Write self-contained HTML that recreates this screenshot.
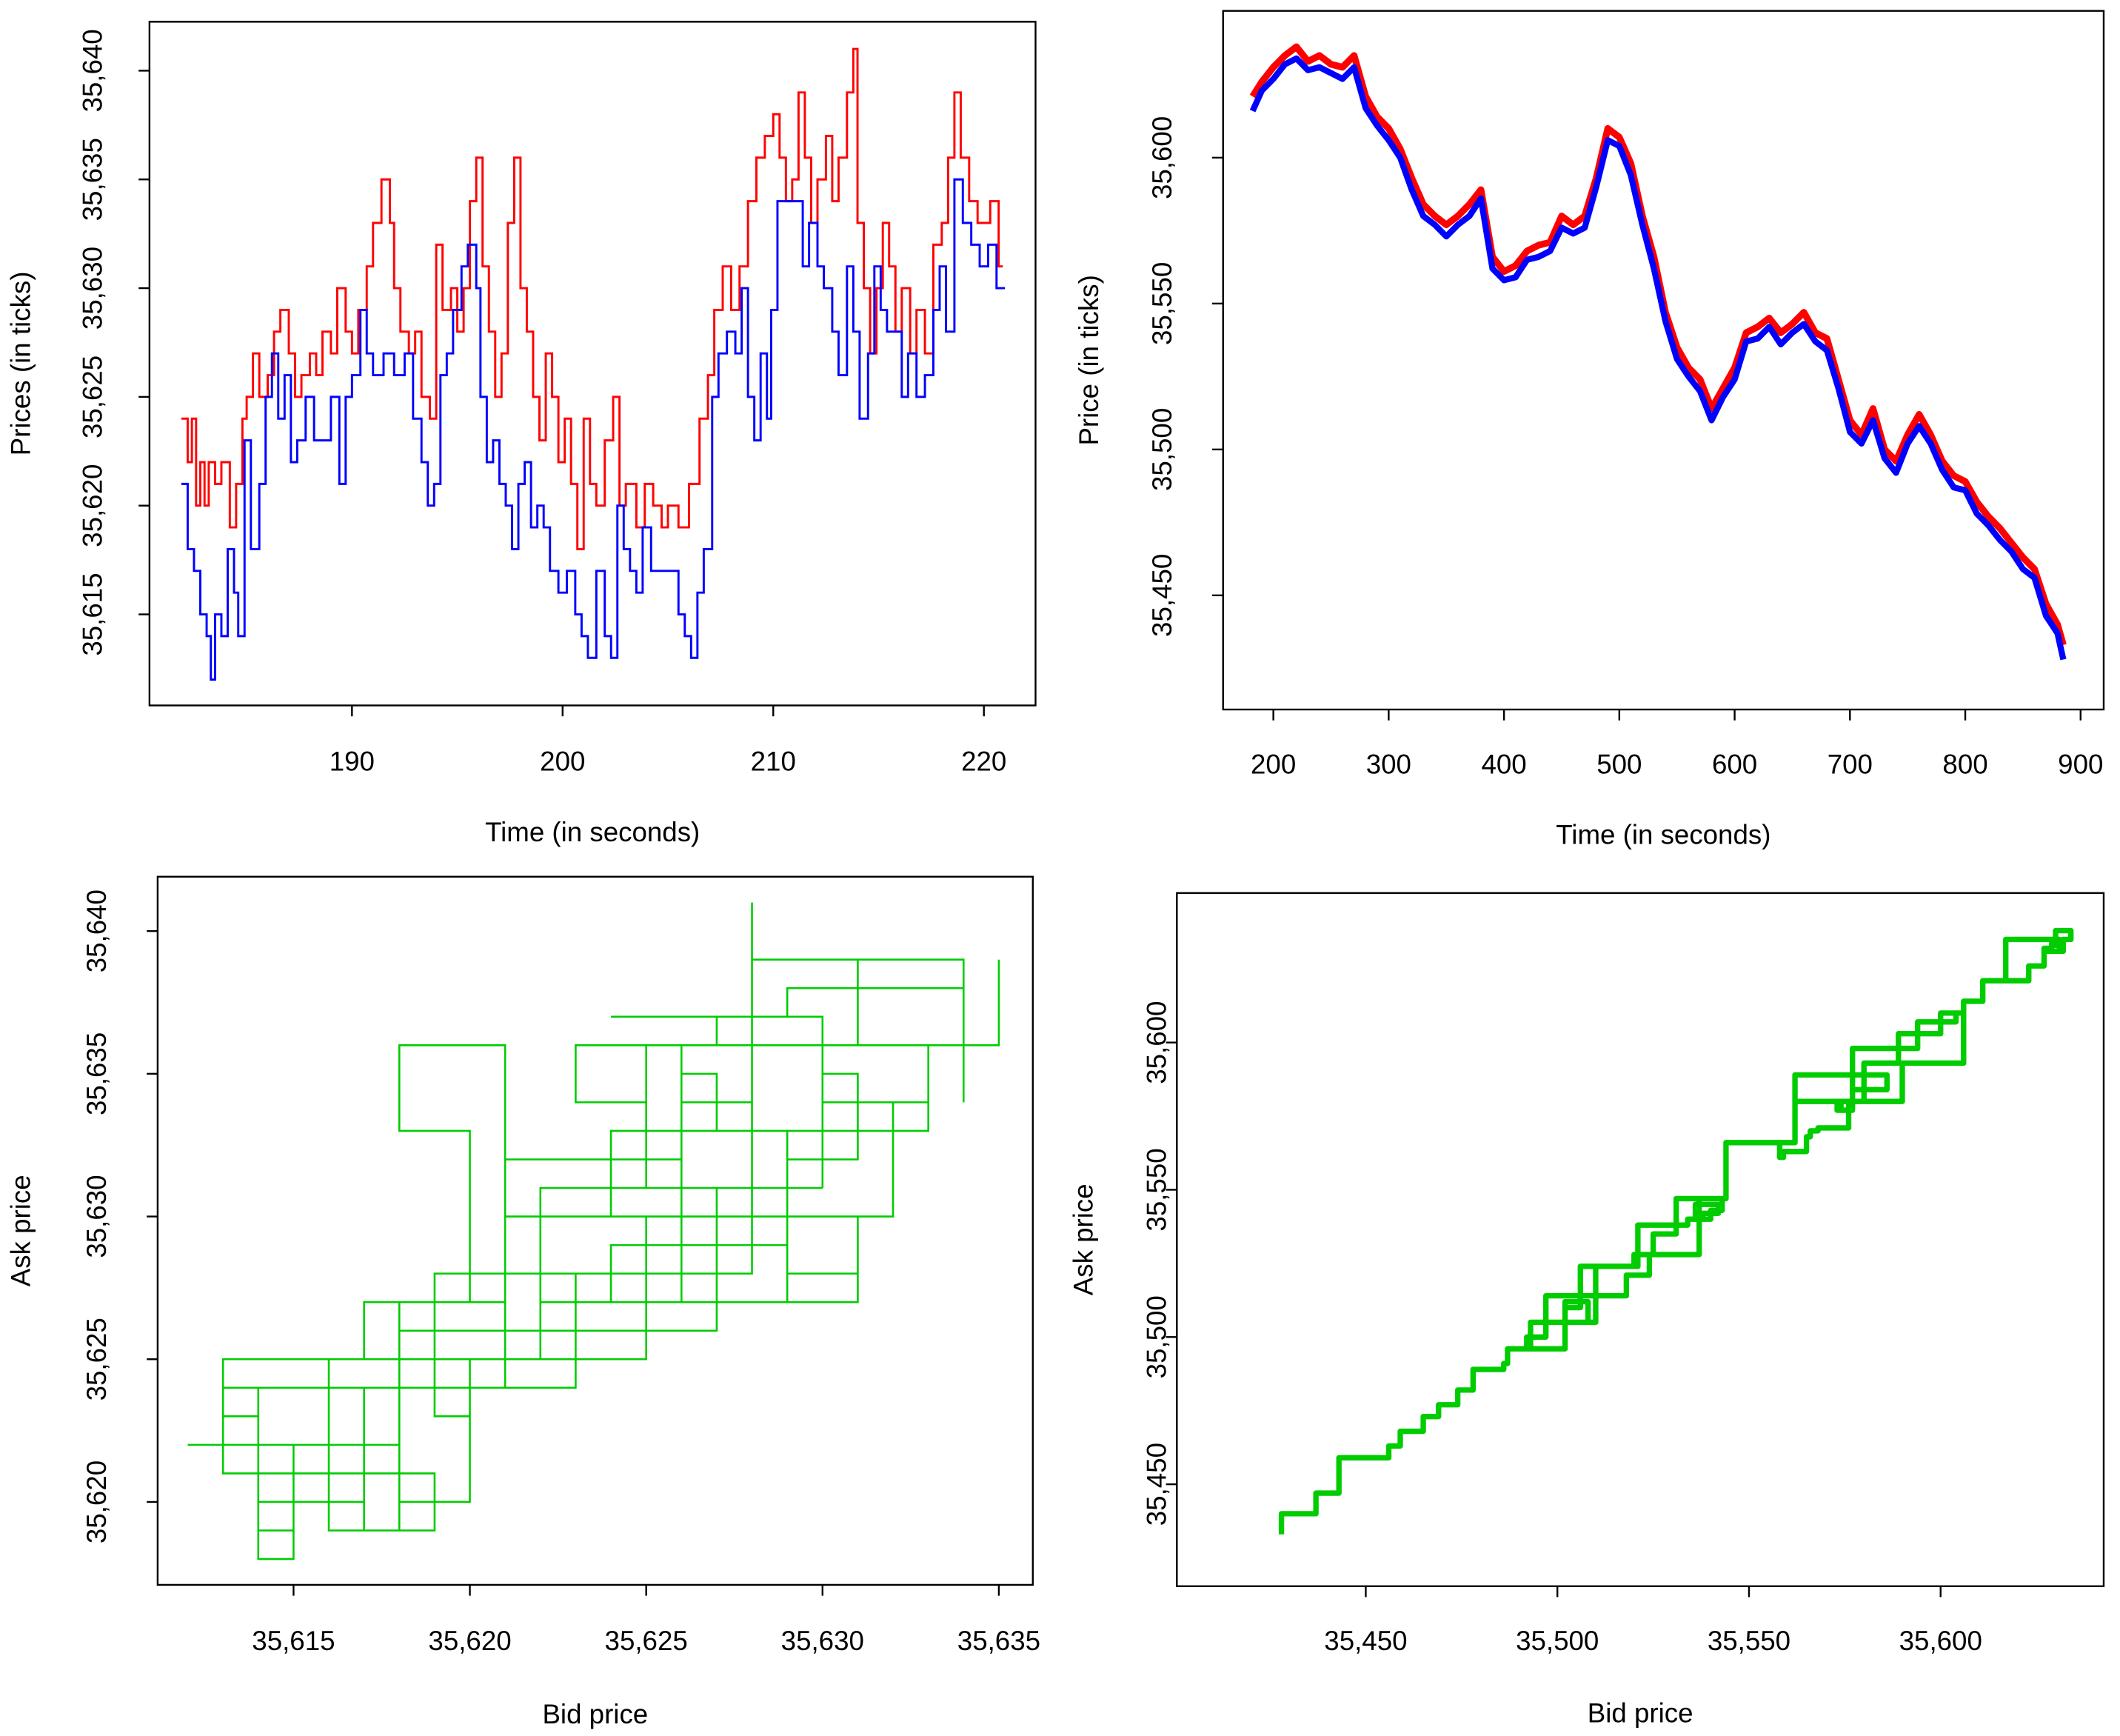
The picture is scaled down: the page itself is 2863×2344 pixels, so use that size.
<!DOCTYPE html>
<html><head><meta charset="utf-8"><style>
html,body{margin:0;padding:0;background:#fff}
svg{display:block}
text{font-family:"Liberation Sans",Arial,sans-serif;fill:#000}
</style></head><body>
<svg id="root" xmlns="http://www.w3.org/2000/svg" width="2863" height="2344" viewBox="0 0 1560 1277.2" preserveAspectRatio="none"></svg>
<script>
// Panel 1 (zoomed time series) data
const p1AskTimes=[181.9,182.2,182.4,182.6,182.8,183.0,183.2,183.5,183.8,184.2,184.5,184.8,185.0,185.3,185.6,186.0,186.3,186.6,187.0,187.3,187.6,188.0,188.3,188.6,189.0,189.3,189.7,190.0,190.3,190.7,191.0,191.4,191.8,192.0,192.3,192.7,193.0,193.3,193.7,194.0,194.3,194.7,195.0,195.3,195.6,195.9,196.2,196.5,196.8,197.1,197.4,197.7,198.0,198.3,198.6,198.9,199.2,199.5,199.8,200.1,200.4,200.7,201.0,201.3,201.6,202.0,202.4,202.7,203.0,203.5,203.9,204.3,204.7,205.0,205.5,206.0,206.5,206.9,207.2,207.6,208.0,208.4,208.8,209.2,209.6,210.0,210.3,210.6,210.9,211.2,211.5,211.8,212.1,212.5,212.8,213.1,213.5,213.8,214.0,214.3,214.6,214.9,215.2,215.5,215.8,216.1,216.5,216.8,217.2,217.6,218.0,218.3,218.6,218.9,219.3,219.7,220.3,220.7,220.9];
const p1Ask=[35624,35622,35624,35620,35622,35620,35622,35621,35622,35619,35621,35624,35625,35627,35625,35626,35628,35629,35627,35625,35626,35627,35626,35628,35627,35630,35628,35627,35629,35631,35633,35635,35633,35630,35628,35627,35628,35625,35624,35632,35629,35630,35628,35630,35634,35636,35631,35628,35625,35627,35633,35636,35630,35628,35625,35623,35627,35625,35622,35624,35621,35618,35624,35621,35620,35623,35625,35620,35621,35619,35621,35620,35619,35620,35619,35621,35624,35626,35629,35631,35629,35631,35634,35636,35637,35638,35636,35634,35635,35639,35636,35633,35635,35637,35634,35636,35639,35641,35633,35630,35627,35630,35633,35631,35628,35630,35627,35629,35627,35632,35633,35636,35639,35636,35634,35633,35634,35631,35631];
const p1BidTimes=[181.9,182.2,182.5,182.8,183.1,183.3,183.5,183.8,184.1,184.4,184.6,184.9,185.2,185.6,185.9,186.2,186.5,186.8,187.1,187.4,187.8,188.2,188.6,189.0,189.4,189.7,190.0,190.4,190.7,191.0,191.5,192.0,192.5,192.9,193.3,193.6,193.9,194.2,194.5,194.8,195.2,195.5,195.9,196.1,196.4,196.7,197.0,197.3,197.6,197.9,198.2,198.5,198.8,199.1,199.4,199.8,200.2,200.6,200.9,201.2,201.6,202.0,202.3,202.6,202.9,203.2,203.5,203.8,204.2,204.6,205.0,205.5,205.8,206.1,206.4,206.7,207.1,207.4,207.8,208.2,208.5,208.8,209.1,209.4,209.7,209.9,210.2,210.5,210.9,211.4,211.7,212.1,212.4,212.8,213.1,213.5,213.8,214.1,214.5,214.8,215.1,215.4,215.8,216.1,216.4,216.8,217.2,217.6,217.9,218.2,218.6,219.0,219.4,219.8,220.2,220.6,221.0];
const p1Bid=[35621,35618,35617,35615,35614,35612,35615,35614,35618,35616,35614,35623,35618,35621,35625,35627,35624,35626,35622,35623,35625,35623,35623,35625,35621,35625,35626,35629,35627,35626,35627,35626,35627,35624,35622,35620,35621,35626,35627,35629,35631,35632,35630,35625,35622,35623,35621,35620,35618,35621,35622,35619,35620,35619,35617,35616,35617,35615,35614,35613,35617,35614,35613,35620,35618,35617,35616,35619,35617,35617,35617,35615,35614,35613,35616,35618,35625,35627,35628,35627,35630,35625,35623,35627,35624,35629,35634,35634,35634,35631,35633,35631,35630,35628,35626,35631,35628,35624,35627,35631,35629,35628,35628,35625,35627,35625,35626,35629,35631,35628,35635,35633,35632,35631,35632,35630,35630];
// Panel 2 (full session) data
const p2Times=[182,190,200,210,220,230,240,250,260,270,280,290,300,310,320,330,340,350,360,370,380,390,400,410,420,430,440,450,460,470,480,490,500,510,520,530,540,550,560,570,580,590,600,610,620,630,640,650,660,670,680,690,700,710,720,730,740,750,760,770,780,790,800,810,820,830,840,850,860,870,880,885];
const p2Ask=[35621,35626,35631,35635,35638,35633,35635,35632,35631,35635,35621,35614,35610,35603,35593,35584,35580,35577,35580,35584,35589,35566,35561,35563,35568,35570,35571,35580,35577,35580,35593,35610,35607,35598,35580,35566,35547,35535,35528,35524,35514,35521,35528,35540,35542,35545,35540,35543,35547,35540,35538,35524,35510,35505,35514,35500,35496,35505,35512,35505,35496,35491,35489,35482,35477,35473,35468,35463,35459,35447,35440,35433];
const p2Bid=[35616,35623,35627,35632,35634,35630,35631,35629,35627,35631,35617,35611,35606,35600,35589,35580,35577,35573,35577,35580,35586,35562,35558,35559,35565,35566,35568,35576,35574,35576,35590,35606,35604,35594,35577,35562,35544,35531,35525,35520,35510,35518,35524,35537,35538,35542,35536,35540,35543,35537,35534,35521,35506,35502,35510,35497,35492,35502,35508,35502,35493,35487,35486,35478,35474,35469,35465,35459,35456,35443,35437,35428];
const p1XTicks=[190,200,210,220];
const p1YTicks=[35615,35620,35625,35630,35635,35640];
const p2XTicks=[200,300,400,500,600,700,800,900];
const p2YTicks=[35450,35500,35550,35600];
const p3XTicks=[35615,35620,35625,35630,35635];
const p3YTicks=[35620,35625,35630,35635,35640];
const p4XTicks=[35450,35500,35550,35600];
const p4YTicks=[35450,35500,35550,35600];

const NS="http://www.w3.org/2000/svg";
const root=document.getElementById('root');
function mk(tag,attrs,parent){const e=document.createElementNS(NS,tag);for(const k in attrs)e.setAttribute(k,attrs[k]);(parent||root).appendChild(e);return e;}
function lin(d0,d1,r0,r1){return v=>r0+(v-d0)*(r1-r0)/(d1-d0);}
function fmt(v){return v>=1000?String(v).replace(/(\d)(?=(\d{3})+$)/,'$1,'):String(v);}

function panel(name,box,xs,ys,xt,yt,xtitle,ytitle,tickY,titleY,ylabX,ytitleX){
  const g=mk('g',{});
  
  
  const r=mk('rect',{x:box[0],y:box[1],width:box[2]-box[0],height:box[3]-box[1],fill:'none',stroke:'#000','stroke-width':1.3},g);
  
  
  xt.forEach(v=>{const x=xs(v);
    mk('line',{x1:x,x2:x,y1:box[3],y2:box[3]+8,stroke:'#000','stroke-width':1.3},g);
    const t=mk('text',{x:x,y:tickY,'font-size':20,'text-anchor':'middle'},g);t.textContent=fmt(v);
    
    });
  yt.forEach(v=>{const y=ys(v);
    mk('line',{x1:box[0]-8,x2:box[0],y1:y,y2:y,stroke:'#000','stroke-width':1.3},g);
    const t=mk('text',{x:ylabX,y:y,'font-size':20,'text-anchor':'middle',transform:`rotate(-90 ${ylabX} ${y})`},g);t.textContent=fmt(v);
    
    });
  const xtl=mk('text',{x:(box[0]+box[2])/2,y:titleY,'font-size':20,'text-anchor':'middle'},g);xtl.textContent=xtitle;
  
  
  const cy=(box[1]+box[3])/2;
  const ytl=mk('text',{x:ytitleX,y:cy,'font-size':20,'text-anchor':'middle',transform:`rotate(-90 ${ytitleX} ${cy})`},g);ytl.textContent=ytitle;
  
  
  return g;
}
function stepPath(ts,vs,xs,ys,end){let d='';for(let i=0;i<ts.length;i++){const x=xs(ts[i]),y=ys(vs[i]);if(i===0)d+=`M${x},${y}`;else d+=`H${x}V${y}`;}if(end!==undefined)d+=`H${xs(end)}`;return d;}
function linePath(ts,vs,xs,ys){return ts.map((t,i)=>(i?'L':'M')+xs(t)+','+ys(vs[i])).join('');}
function joint(aT,aV,bT,bV){const T=[...new Set(aT.concat(bT))].sort((a,b)=>a-b);const out=[];
  T.forEach(t=>{let a=aV[0],b=bV[0];for(let i=0;i<aT.length;i++)if(aT[i]<=t)a=aV[i];for(let i=0;i<bT.length;i++)if(bT[i]<=t)b=bV[i];out.push([b,a]);});return out;}
function jointPath(pts,xs,ys){let d='';pts.forEach((p,i)=>{const x=xs(p[0]),y=ys(p[1]);if(i===0)d+=`M${x},${y}`;else d+=`H${x}V${y}`;});return d;}

// Panel 1
{const xs=lin(190,220,259,724),ys=lin(35620,35640,372,52);
 const g=panel('zoomed-price-panel',[110,16,762,519],xs,ys,p1XTicks,p1YTicks,'Time (in seconds)','Prices (in ticks)',567,619,75,22);
 const a=mk('path',{d:stepPath(p1AskTimes,p1Ask,xs,ys),fill:'none',stroke:'#ff0000','stroke-width':1.6},g);
 
 const b=mk('path',{d:stepPath(p1BidTimes,p1Bid,xs,ys),fill:'none',stroke:'#0000ff','stroke-width':1.6},g);
 }
// Panel 2
{const xs=lin(200,900,937,1531),ys=lin(35450,35600,438,116);
 const g=panel('full-price-panel',[900,8,1548,522],xs,ys,p2XTicks,p2YTicks,'Time (in seconds)','Price (in ticks)',569,621,862,808);
 const a=mk('path',{d:linePath(p2Times,p2Ask,xs,ys),fill:'none',stroke:'#ff0000','stroke-width':5,'stroke-linejoin':'round'},g);
 
 const b=mk('path',{d:linePath(p2Times,p2Bid,xs,ys),fill:'none',stroke:'#0000ff','stroke-width':4.5,'stroke-linejoin':'round'},g);
 }
// Panel 3
{const xs=lin(35615,35635,216,735),ys=lin(35620,35640,1105,685);
 const g=panel('zoomed-bid-ask-panel',[116,645,760,1166],xs,ys,p3XTicks,p3YTicks,'Bid price','Ask price',1214,1268,78,22);
 const p=mk('path',{d:jointPath(joint(p1AskTimes,p1Ask,p1BidTimes,p1Bid),xs,ys),fill:'none',stroke:'#00cc00','stroke-width':1.4},g);
 }
// Panel 4
{const xs=lin(35450,35600,1005,1428),ys=lin(35450,35600,1092,767);
 const g=panel('full-bid-ask-panel',[866,657,1548,1167],xs,ys,p4XTicks,p4YTicks,'Bid price','Ask price',1214,1267,858,804);
 const p=mk('path',{d:jointPath(joint(p2Times,p2Ask,p2Times,p2Bid),xs,ys),fill:'none',stroke:'#00cc00','stroke-width':4,'stroke-linejoin':'round'},g);
 }
</script>
</body></html>
